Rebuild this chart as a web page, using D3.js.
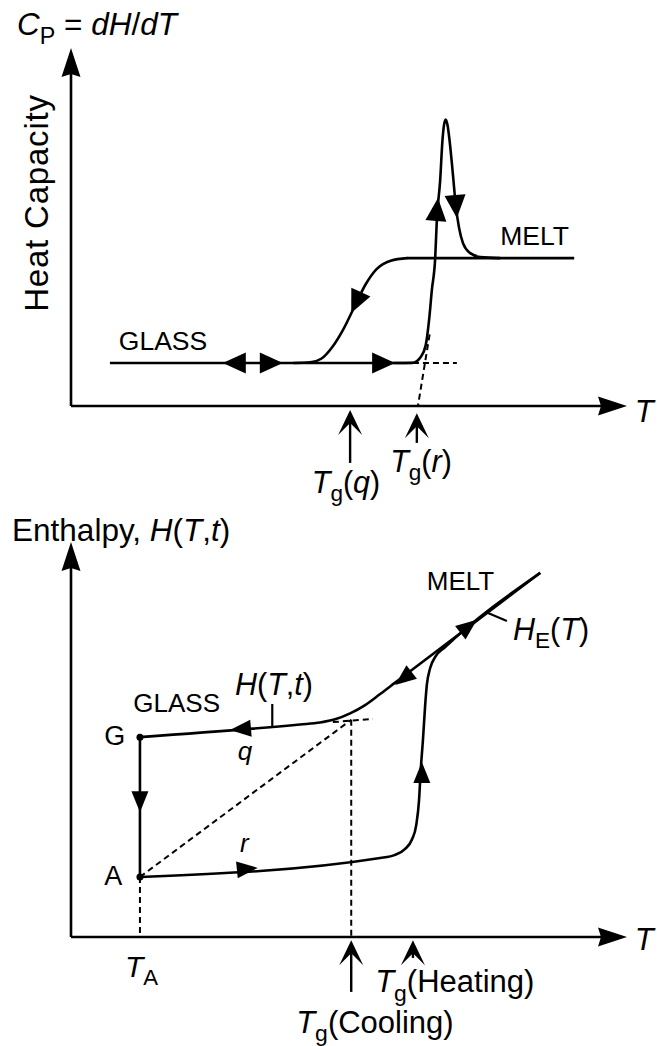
<!DOCTYPE html>
<html>
<head>
<meta charset="utf-8">
<script src="https://cdn.jsdelivr.net/npm/d3@7"></script>
<style>
  body { margin: 0; background: #fff; }
  svg { display: block; font-family: "Liberation Sans", Arial, sans-serif; }
</style>
</head>
<body>
<svg id="chart" width="657" height="1046"></svg>
<script>
// units are arbitrary: T runs 0..100 on both panels, Cp and H run 0..100 up the y axes

// --- top panel: heat capacity ---
const cpGlass = [[7, 12], [61.5, 12]];
const cpMelt = [[60.4, 41.3], [90.5, 41.3]];
const cpCooling = [[40, 12], [43, 12.2], [45, 13.2], [47, 16.5], [49, 21.5], [51, 27.8],
  [53, 34], [55, 38.3], [57.5, 40.6], [60.5, 41.3]];
const cpHeating = [[58, 12], [61.5, 12.1], [62.9, 13.7], [63.8, 17], [64.4, 24], [64.9, 32.4],
  [65.5, 41.3], [65.8, 52], [66.4, 63.1], [66.8, 74], [67.1, 78.6], [67.4, 80], [67.7, 78.6],
  [68.1, 74], [68.7, 64.5], [69.2, 56.1], [69.8, 49.7], [70.5, 45.5], [71.8, 42.7],
  [73.6, 41.6], [77.2, 41.3]];
const cpDashed = [
  [[61.5, 12], [69.4, 12]],
  [[64.5, 20], [62.4, 0]]
];
// arrowheads: [from, tip]
const cpArrows = [
  [[32, 12], [27.3, 12]],
  [[34, 12], [38.1, 12]],
  [[54, 12], [58.3, 12]],
  [[52.3, 32.4], [50.4, 26]],
  [[65.6, 51.1], [66.0, 58.1]],
  [[69.1, 58.4], [69.4, 52.5]]
];
const cpTg = [[50.2, -1.1, -15.9], [62.2, -2.0, -10.3]];

// --- bottom panel: enthalpy ---
const ptG = [12.4, 50.6];
const ptA = [12.4, 15.2];
const hCooling = [[12.4, 50.6], [41.2, 53.8], [44.8, 54.3], [47.5, 55.1], [50.2, 56.6],
  [52.9, 58.7], [55.6, 61.5], [58.3, 64.4], [61.0, 67.3], [84.4, 92.2]];
const hHeating = [[12.4, 15.2], [55.6, 20.0], [58.3, 20.8], [60.1, 22.3], [61.3, 24.6],
  [62.1, 28.4], [62.6, 34.7], [62.9, 42.3], [63.3, 49.9], [63.7, 58.7], [64.0, 63.8],
  [64.6, 68.1], [65.6, 71.1], [67.3, 73.4], [84.4, 92.2]];
const hGA = [[12.4, 50.6], [12.4, 15.2]];
const hDashed = [
  [[12.4, 15.2], [50.4, 55.0]],
  [[47.1, 54.4], [54.3, 55.2]],
  [[50.4, 55.0], [50.4, 0]],
  [[12.4, 15.2], [12.4, 0]]
];
const hTicks = [
  [[36.2, 53.2], [36.2, 59.0]],
  [[75.0, 82.0], [78.4, 80.0]]
];
const hArrows = [
  [[32.7, 52.9], [28.6, 52.4]],
  [[12.4, 36.5], [12.4, 31.6]],
  [[29.9, 17.0], [33.6, 17.5]],
  [[63.1, 40.5], [63.1, 44.3]],
  [[70.0, 77.0], [73.0, 80.3]],
  [[61.3, 67.1], [58.3, 63.8]]
];
const hTg = [[50.4, -0.8, -13.9], [61.5, -0.8, -5.3]];

const svg = d3.select('#chart');

const x = d3.scaleLinear().domain([0, 100]).range([71, 627]);
const yTop = d3.scaleLinear().domain([0, 100]).range([406, 48]);
const yBot = d3.scaleLinear().domain([0, 100]).range([937, 542]);

function drawLine(g, y, pts, dashed) {
  const line = d3.line().x(d => x(d[0])).y(d => y(d[1])).curve(d3.curveMonotoneX);
  g.append('path')
    .attr('d', line(pts))
    .attr('fill', 'none')
    .attr('stroke', '#000')
    .attr('stroke-width', dashed ? 2 : 2.6)
    .attr('stroke-dasharray', dashed ? '6,4' : null)
    .attr('stroke-linejoin', 'round');
}

function straight(g, y, pts, dashed, w) {
  g.append('line')
    .attr('x1', x(pts[0][0])).attr('y1', y(pts[0][1]))
    .attr('x2', x(pts[1][0])).attr('y2', y(pts[1][1]))
    .attr('stroke', '#000')
    .attr('stroke-width', w || (dashed ? 2 : 2.6))
    .attr('stroke-dasharray', dashed ? '6,4' : null);
}

// filled arrowhead, tip at `tip`, pointing away from `from`
function arrowHead(g, y, from, tip, len, hw, notch) {
  const x1 = x(from[0]), y1 = y(from[1]), x2 = x(tip[0]), y2 = y(tip[1]);
  const d = Math.hypot(x2 - x1, y2 - y1);
  const ux = (x2 - x1) / d, uy = (y2 - y1) / d;
  const nx = -uy, ny = ux;
  const bx = x2 - ux * len, by = y2 - uy * len;
  const mx = x2 - ux * (len - (notch || 0)), my = y2 - uy * (len - (notch || 0));
  g.append('path')
    .attr('d', `M${x2},${y2}L${bx + nx * hw},${by + ny * hw}L${mx},${my}L${bx - nx * hw},${by - ny * hw}Z`)
    .attr('fill', '#000');
}

// the upward "Tg" pointers under the T axis
function pointer(g, y, p) {
  const px = x(p[0]), tip = y(p[1]), end = y(p[2]);
  g.append('line').attr('x1', px).attr('x2', px).attr('y1', tip + 8).attr('y2', end)
    .attr('stroke', '#000').attr('stroke-width', 2.4);
  g.append('path')
    .attr('d', `M${px},${tip}L${px - 12},${tip + 25}L${px},${tip + 13}L${px + 12},${tip + 25}Z`)
    .attr('fill', '#000');
}

// text with italic and subscript pieces: parts = [[str, 'i' | 's' | '']]
function rich(g, px, py, parts, size) {
  const t = g.append('text').attr('x', px).attr('y', py).attr('font-size', size).attr('fill', '#000');
  let shift = 0;
  parts.forEach(([s, f]) => {
    const sp = t.append('tspan').text(s);
    if (f.includes('i')) sp.attr('font-style', 'italic');
    const want = f.includes('s') ? size * 0.27 : 0;
    if (want !== shift) { sp.attr('dy', want - shift); shift = want; }
    if (f.includes('s')) sp.attr('font-size', size * 0.74);
  });
  return t;
}

function axes(g, y) {
  straight(g, y, [[0, 0], [96, 0]], false, 2.6);
  straight(g, y, [[0, 0], [0, 96]], false, 2.6);
  arrowHead(g, y, [0, 0], [100, 0], 29, 9.5, 3);
  arrowHead(g, y, [0, 0], [0, 100], 29, 9.5, 3);
}

// ---------- top panel ----------
const gTop = svg.append('g');
axes(gTop, yTop);
drawLine(gTop, yTop, cpGlass);
drawLine(gTop, yTop, cpMelt);
drawLine(gTop, yTop, cpCooling);
drawLine(gTop, yTop, cpHeating);
cpDashed.forEach(d => straight(gTop, yTop, d, true));
cpArrows.forEach(([f, t]) => arrowHead(gTop, yTop, f, t, 23, 10.5));
cpTg.forEach(p => pointer(gTop, yTop, p));

rich(gTop, x(-9.7), yTop(103.6), [['C', 'i'], ['P', 's'], [' = ', ''], ['dH', 'i'], ['/', ''], ['dT', 'i']], 31.5);
rich(gTop, x(-4.1), yTop(26.3), [['Heat Capacity', '']], 33)
  .attr('letter-spacing', 0.8)
  .attr('transform', `rotate(-90 ${x(-4.1)} ${yTop(26.3)})`);
rich(gTop, x(8.6), yTop(15.6), [['GLASS', '']], 26.5);
rich(gTop, x(77.2), yTop(45), [['MELT', '']], 26.5);
rich(gTop, x(101.4), yTop(-4.5), [['T', 'i']], 31);
rich(gTop, x(43.3), yTop(-24.3), [['T', 'i'], ['g', 's'], ['(', ''], ['q', 'i'], [')', '']], 30.5);
rich(gTop, x(57.4), yTop(-18.4), [['T', 'i'], ['g', 's'], ['(', ''], ['r', 'i'], [')', '']], 30.5);

// ---------- bottom panel ----------
const gBot = svg.append('g');
axes(gBot, yBot);
hDashed.forEach(d => straight(gBot, yBot, d, true));
drawLine(gBot, yBot, hCooling);
drawLine(gBot, yBot, hHeating);
straight(gBot, yBot, hGA, false);
hTicks.forEach(d => straight(gBot, yBot, d, false, 2.2));
hArrows.forEach(([f, t]) => arrowHead(gBot, yBot, f, t, 21, 8.5));
hTg.forEach(p => pointer(gBot, yBot, p));
[ptG, ptA].forEach(p => gBot.append('circle').attr('cx', x(p[0])).attr('cy', yBot(p[1])).attr('r', 3.5).attr('fill', '#000'));

rich(gBot, x(-10.6), yBot(100.3), [['Enthalpy, ', ''], ['H', 'i'], ['(', ''], ['T', 'i'], [',', ''], ['t', 'i'], [')', '']], 31.5);
rich(gBot, x(11.2), yBot(57.0), [['GLASS', '']], 26);
rich(gBot, x(6.0), yBot(48.6), [['G', '']], 27);
rich(gBot, x(6.0), yBot(13.2), [['A', '']], 27);
rich(gBot, x(29.5), yBot(61.3), [['H', 'i'], ['(', ''], ['T', 'i'], [',', ''], ['t', 'i'], [')', '']], 30.5);
rich(gBot, x(30.0), yBot(44.8), [['q', 'i']], 26);
rich(gBot, x(30.4), yBot(21.5), [['r', 'i']], 26);
rich(gBot, x(64.0), yBot(87.8), [['MELT', '']], 26);
rich(gBot, x(79.5), yBot(75.2), [['H', 'i'], ['E', 's'], ['(', ''], ['T', 'i'], [')', '']], 30.5);
rich(gBot, x(101.4), yBot(-3.3), [['T', 'i']], 31);
rich(gBot, x(9.7), yBot(-10.1), [['T', 'i'], ['A', 's']], 30);
rich(gBot, x(54.7), yBot(-14.0), [['T', 'i'], ['g', 's'], ['(Heating)', '']], 31);
rich(gBot, x(40.5), yBot(-24.2), [['T', 'i'], ['g', 's'], ['(Cooling)', '']], 31);
</script>
</body>
</html>
